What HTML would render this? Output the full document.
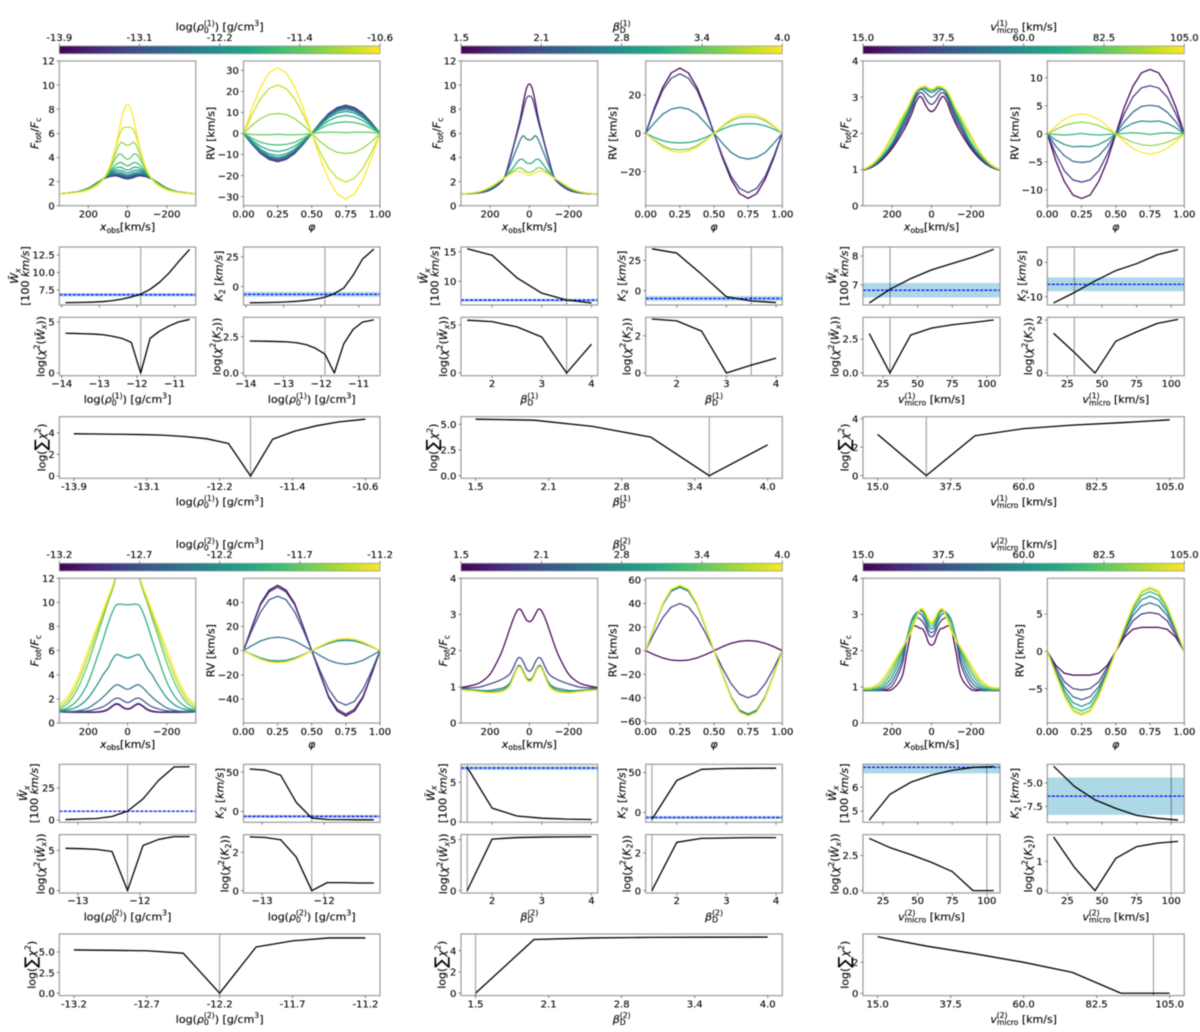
<!DOCTYPE html>
<html lang="en">
<head>
<meta charset="utf-8">
<title>Spectral line profile and radial velocity parameter study</title>
<style>
html,body{margin:0;padding:0;background:#fff;}
#figure{display:block;width:1200px;height:1032px;background:#fff;filter:blur(0.5px);}
text{font-family:"DejaVu Sans","Liberation Sans",sans-serif;fill:#000;stroke:#000;stroke-width:0.12px;white-space:pre;}
</style>
</head>
<body>
<svg id="figure" xmlns="http://www.w3.org/2000/svg" width="1200" height="1032" viewBox="0 0 1200 1032"></svg>
<script>
/* ---------- shared sample grids and observed values ---------- */
const profileVelocity = [0,15,30,45,60,80,100,125,150,200,250,300,348];
const rvPhaseQuarter = [0,0.0625,0.125,0.1875,0.25];
const observedW = 6.82;
const observedWError = 0.25;
const observedK = -6.4;
const observedKError = 2.0;

/* ---------- rho(1) ---------- */
const rhoOneValues = [-13.9,-13.65,-13.4,-13.15,-12.9,-12.65,-12.4,-12.15,-11.9,-11.65,-11.4,-11.15,-10.9,-10.6];
const rhoOneTickLabels = ['-13.9','-13.1','-12.2','-11.4','-10.6'];
const rhoOneProfiles = [
[2.23,2.26,2.34,2.43,2.47,2.45,2.38,2.2,1.95,1.45,1.17,1.05,.98],
[2.25,2.28,2.36,2.44,2.48,2.46,2.38,2.2,1.95,1.45,1.17,1.05,.98],
[2.27,2.3,2.38,2.46,2.5,2.48,2.4,2.2,1.95,1.45,1.17,1.05,.98],
[2.3,2.33,2.42,2.5,2.53,2.5,2.42,2.2,1.95,1.45,1.17,1.05,.98],
[2.36,2.4,2.48,2.55,2.58,2.54,2.44,2.21,1.94,1.44,1.17,1.05,.98],
[2.44,2.48,2.57,2.63,2.65,2.6,2.47,2.22,1.93,1.44,1.17,1.05,.98],
[2.55,2.6,2.7,2.76,2.78,2.7,2.52,2.23,1.92,1.43,1.16,1.05,.98],
[2.72,2.78,2.9,2.95,2.93,2.8,2.58,2.24,1.91,1.42,1.16,1.04,.98],
[2.95,3.02,3.17,3.2,3.12,2.92,2.62,2.25,1.9,1.41,1.15,1.04,.98],
[3.3,3.4,3.57,3.55,3.4,3.05,2.66,2.25,1.88,1.4,1.15,1.04,.98],
[3.85,3.97,4.25,4.25,3.95,3.35,2.75,2.23,1.85,1.38,1.14,1.04,.98],
[5.0,5.1,5.25,5.0,4.4,3.6,2.85,2.2,1.82,1.35,1.13,1.03,.98],
[6.5,6.5,6.3,5.7,4.9,3.75,2.9,2.18,1.78,1.33,1.13,1.03,.98],
[8.4,8.1,7.2,6.1,5.0,3.8,2.9,2.15,1.75,1.3,1.12,1.03,.98]
];
const rhoOneRV = [
[0,-5.1,-9.5,-12.3,-13.4],[0,-5.1,-9.4,-12.2,-13.3],[0,-5,-9.4,-12.1,-13.2],[0,-4.9,-9.2,-12,-13],
[0,-4.8,-9,-11.7,-12.7],[0,-4.6,-8.7,-11.2,-12.2],[0,-4.4,-8.2,-10.6,-11.5],[0,-4,-7.5,-9.7,-10.5],
[0,-3.3,-6.1,-7.9,-8.6],[0,-2.3,-4.2,-5.2,-5.5],[0,-.5,-.6,-.6,-.4],[0,3.9,7,9,9.5],
[0,9,16.5,21.3,23],[0,12,22,28.8,31.2]
];
const rhoOneW = [5.7,5.72,5.74,5.78,5.85,5.98,6.2,6.5,6.9,7.6,8.6,9.9,11.5,13.3];
const rhoOneK = [-13.4,-13.3,-13.2,-13,-12.7,-12.2,-11.5,-10.5,-8.8,-5.8,-1.2,9.5,23,31.3];
const rhoOneChiW = [3.9,3.88,3.85,3.82,3.75,3.6,3.4,3.0,0,3.4,4.1,4.6,5.0,5.25];
const rhoOneChiK = [2.2,2.19,2.18,2.16,2.14,2.08,1.95,1.7,1.3,0,2.0,3.0,3.5,3.65];
const rhoOneSum = [3.9,3.88,3.86,3.83,3.78,3.65,3.45,3.0,0,3.4,4.15,4.65,5.0,5.25];

/* ---------- beta(1) ---------- */
const betaOneValues = [1.5,2,2.5,3,3.5,4];
const betaOneTickLabels = ['1.5','2.1','2.8','3.4','4.0'];
const betaOneProfiles = [
[10.1,9.7,8.6,7.3,6.3,5.0,3.8,2.4,1.85,1.3,1.08,1.0,.97],
[9.1,8.9,8.0,7.0,6.1,4.9,3.7,2.4,1.88,1.32,1.1,1.0,.97],
[5.45,5.55,5.8,5.5,4.9,4.1,3.3,2.38,1.95,1.38,1.12,1.02,.97],
[3.5,3.55,3.8,3.85,3.65,3.2,2.8,2.35,2.0,1.45,1.15,1.03,.97],
[2.75,2.82,3.0,3.15,3.1,2.9,2.65,2.32,2.05,1.5,1.18,1.04,.97],
[2.52,2.58,2.72,2.83,2.85,2.75,2.58,2.3,2.08,1.55,1.2,1.05,.97]
];
const betaOneRV = [
[0,13,24,31.5,34],[0,12,22.5,28.7,31],[0,5.3,10,12.6,13.5],
[0,-2.2,-3.9,-4.8,-5],[0,-3.6,-6.5,-8.3,-8.7],[0,-4,-7.3,-9.4,-10]
];
const betaOneW = [15.5,14.4,10.6,8.0,6.85,6.35];
const betaOneK = [34.5,31,13.5,-5,-8.5,-9.8];
const betaOneChiW = [5.5,5.35,4.8,3.75,0,3.0];
const betaOneChiK = [2.9,2.8,2.25,0,.42,.8];
const betaOneSum = [5.5,5.4,4.8,3.75,0,3.0];

/* ---------- v_micro(1) ---------- */
const microOneValues = [15,30,45,60,75,90,105];
const microOneTickLabels = ['15.0','37.5','60.0','82.5','105.0'];
const microOneProfiles = [
[2.6,2.65,2.78,2.95,3.02,2.85,2.55,2.25,2.0,1.58,1.27,1.07,.98],
[2.8,2.85,2.97,3.1,3.12,2.98,2.68,2.35,2.1,1.63,1.3,1.08,.98],
[3.0,3.05,3.13,3.2,3.2,3.05,2.78,2.45,2.18,1.68,1.33,1.1,.99],
[3.13,3.16,3.22,3.24,3.22,3.1,2.85,2.52,2.24,1.72,1.36,1.11,.99],
[3.18,3.2,3.26,3.27,3.24,3.13,2.9,2.58,2.3,1.76,1.38,1.12,.99],
[3.21,3.24,3.29,3.28,3.25,3.15,2.94,2.63,2.38,1.88,1.44,1.14,.99],
[3.22,3.25,3.31,3.29,3.26,3.17,2.97,2.68,2.45,1.95,1.47,1.16,1.0]
];
const microOneRV = [
[0,-4.8,-8.5,-10.9,-11.5],[0,-3.6,-6.6,-8.2,-8.6],[0,-2.2,-3.9,-4.9,-5.1],[0,-1.1,-1.9,-2.3,-2.2],
[0,-.1,-.2,-.1,.1],[0,.8,1.5,1.9,2.1],[0,1.4,2.6,3.3,3.6]
];
const microOneW = [6.38,6.85,7.22,7.52,7.74,7.96,8.23];
const microOneK = [-11.8,-8.8,-5.4,-2.4,-.4,2.2,3.7];
const microOneChiW = [2.9,0,2.8,3.3,3.55,3.72,3.9];
const microOneChiK = [1.5,.78,0,1.2,1.55,1.87,2.02];
const microOneSum = [2.9,0,2.8,3.3,3.55,3.72,3.92];

/* ---------- rho(2) ---------- */
const rhoTwoValues = [-13.2,-12.95,-12.7,-12.45,-12.2,-11.95,-11.7,-11.45,-11.2];
const rhoTwoTickLabels = ['-13.2','-12.7','-12.2','-11.7','-11.2'];
const rhoTwoProfiles = [
[1.15,1.2,1.35,1.52,1.55,1.35,1.1,.95,.9,.88,.88,.9,.92],
[1.18,1.24,1.4,1.57,1.6,1.4,1.15,1.0,.93,.9,.9,.9,.93],
[1.7,1.78,1.93,2.05,2.05,1.85,1.6,1.35,1.2,1.0,.95,.93,.95],
[2.8,2.87,3.02,3.15,3.15,2.9,2.55,2.15,1.8,1.25,1.02,.95,.96],
[5.4,5.45,5.55,5.65,5.65,5.2,4.55,4.0,3.3,2.1,1.4,1.1,1.0],
[9.8,9.82,9.85,9.85,9.75,9.1,8.2,6.9,5.7,3.4,2.0,1.3,1.05],
[14,14,14,13,12.0,10.9,10,8.7,7.5,5.0,3.0,1.7,1.15],
[14,14,14,13,12.2,11.1,10.2,9,7.9,5.6,3.5,2,1.3],
[14,14,14,13,12.2,11.2,10.4,9.3,8.2,6.1,3.9,2.3,1.5]
];
const rhoTwoRV = [
[0,20,39,50,54],[0,19.5,38,48.5,52.5],[0,17,32,42,45],[0,4.2,8,10.3,11.2],[0,-3.2,-6.1,-8,-8.5],
[0,-3.6,-6.8,-8.8,-9.4],[0,-3.7,-7,-9.1,-9.7],[0,-3.8,-7.1,-9.3,-9.9],[0,-3.8,-7.2,-9.4,-10]
];
const rhoTwoW = [.3,.7,1.1,2.7,6.9,16.5,31,41.5,41.7];
const rhoTwoK = [54,52.5,46,11.5,-8.5,-10.3,-10.5,-10.7,-10.7];
const rhoTwoChiW = [5.25,5.2,5.12,4.85,0,5.6,6.35,6.7,6.7];
const rhoTwoChiK = [2.8,2.77,2.65,1.75,0,.42,.42,.4,.4];
const rhoTwoSum = [5.25,5.2,5.15,4.85,0,5.6,6.35,6.7,6.7];

/* ---------- beta(2) ---------- */
const betaTwoValues = [1.5,2,2.5,3,3.5,4];
const betaTwoTickLabels = ['1.5','2.1','2.8','3.4','4.0'];
const betaTwoProfiles = [
[2.8,2.85,3.0,3.14,3.12,2.9,2.6,2.2,1.85,1.35,1.12,1.03,.98],
[1.43,1.5,1.68,1.8,1.78,1.55,1.35,1.25,1.18,1.08,1.0,.97,.95],
[1.2,1.25,1.42,1.57,1.57,1.32,1.1,.99,.95,.9,.9,.92,.94],
[1.18,1.24,1.4,1.55,1.55,1.3,1.07,.95,.9,.87,.88,.91,.93],
[1.16,1.22,1.38,1.54,1.54,1.28,1.04,.92,.87,.85,.87,.9,.92],
[1.14,1.2,1.36,1.52,1.52,1.26,1.02,.9,.85,.83,.86,.89,.91]
];
const betaTwoRV = [
[0,-3.4,-6.2,-8,-8.5],[0,15,28,37,40],[0,20,39,50.5,53.8],
[0,20.5,39.5,51.5,54.8],[0,20.7,40,52,55.2],[0,21,40.3,52.3,55.6]
];
const betaTwoW = [6.9,1.75,.75,.47,.35,.3];
const betaTwoK = [-8.7,40,54,55,55.3,55.4];
const betaTwoChiW = [0,5.05,5.2,5.25,5.27,5.28];
const betaTwoChiK = [0,2.57,2.78,2.8,2.82,2.82];
const betaTwoSum = [0,5.05,5.2,5.25,5.27,5.28];

/* ---------- v_micro(2) ---------- */
const microTwoValues = [15,30,45,60,75,90,105];
const microTwoTickLabels = ['15.0','37.5','60.0','82.5','105.0'];
const microTwoProfiles = [
[2.15,2.22,2.45,2.6,2.62,2.68,2.6,1.95,1.28,.93,.9,.9,.9],
[2.38,2.45,2.65,2.8,2.88,2.92,2.8,2.3,1.6,1.03,.91,.9,.9],
[2.5,2.56,2.78,2.95,3.03,3.0,2.85,2.35,1.75,1.15,.93,.9,.9],
[2.6,2.67,2.88,3.06,3.1,3.03,2.85,2.35,1.9,1.28,.98,.91,.91],
[2.68,2.75,2.96,3.1,3.12,2.98,2.78,2.35,2.0,1.42,1.05,.93,.92],
[2.75,2.82,3.02,3.13,3.13,2.92,2.65,2.32,2.05,1.53,1.13,.96,.94],
[2.8,2.88,3.05,3.15,3.14,2.85,2.55,2.28,2.08,1.62,1.2,1.0,.97]
];
const microTwoRV = [
[0,-1.9,-2.95,-3.2,-3.2],[0,-2.2,-4.1,-5,-5.2],[0,-2.6,-4.8,-6.1,-6.5],[0,-2.8,-5.3,-6.9,-7.4],
[0,-3,-5.7,-7.5,-8],[0,-3.1,-6,-7.9,-8.4],[0,-3.2,-6.1,-8.1,-8.6]
];
const microTwoW = [4.62,5.7,6.2,6.5,6.7,6.82,6.85];
const microTwoK = [-3.2,-5.35,-6.8,-7.7,-8.45,-8.75,-8.95];
const microTwoChiW = [3.7,3.05,2.55,2.0,1.35,0,0];
const microTwoChiK = [1.83,.8,0,1.1,1.5,1.62,1.68];
const microTwoSum = [3.65,3.05,2.55,2.0,1.35,0,0];

/* ---------- helpers ---------- */
const NS = 'http://www.w3.org/2000/svg';
const svg = document.getElementById('figure');
const TICK = 10, LABEL = 11;
let clipCount = 0;

function mk(tag, parent, name) {
  const el = document.createElementNS(NS, tag);
  
  
  parent.appendChild(el);
  return el;
}
const VIRIDIS = ['#440154','#482475','#414487','#355f8d','#2a788e','#21918c','#22a884','#44bf70','#7ad151','#bddf26','#fde725'];
function viridis(t) {
  t = Math.max(0, Math.min(1, t));
  const p = t * (VIRIDIS.length - 1), i = Math.min(Math.floor(p), VIRIDIS.length - 2), f = p - i;
  const a = VIRIDIS[i], b = VIRIDIS[i + 1];
  const ch = k => Math.round(parseInt(a.substr(k, 2), 16) * (1 - f) + parseInt(b.substr(k, 2), 16) * f);
  return 'rgb(' + ch(1) + ',' + ch(3) + ',' + ch(5) + ')';
}
function plain(parent, name, str, x, y, anchor) {
  const t = mk('text', parent, name);
  t.setAttribute('x', x);
  t.setAttribute('y', y);
  t.setAttribute('text-anchor', anchor);
  t.setAttribute('font-size', TICK);
  t.textContent = str;
  return t;
}
function math(parent, name, segs, x, y, rotate) {
  const t = mk('text', parent, name);
  t.setAttribute('x', x);
  t.setAttribute('y', y);
  t.setAttribute('text-anchor', 'middle');
  t.setAttribute('font-size', LABEL);
  if (rotate) t.setAttribute('transform', 'rotate(-90 ' + x + ' ' + y + ')');
  let cur = 0;
  segs.forEach(s => {
    const kind = s[1];
    const ts = document.createElementNS(NS, 'tspan');
    let target = 0, size = LABEL;
    if (kind === 'b' || kind === 'bi') { target = 0.22 * LABEL; size = 0.7 * LABEL; }
    if (kind === 'p') { target = -0.42 * LABEL; size = 0.7 * LABEL; }
    if (kind === 'big') { target = 0.12 * LABEL; size = 1.5 * LABEL; }
    if (kind === 'i' || kind === 'bi') ts.setAttribute('font-style', 'italic');
    ts.setAttribute('font-size', size);
    ts.setAttribute('dy', (target - cur).toFixed(2));
    if (s[2]) ts.setAttribute('dx', (s[2] * LABEL).toFixed(2));
    cur = target;
    ts.textContent = s[0];
    t.appendChild(ts);
  });
  return t;
}
function margin(vals) {
  const lo = Math.min.apply(null, vals), hi = Math.max.apply(null, vals), d = (hi - lo) * 0.05;
  return [lo - d, hi + d];
}
function tickValue(s) { return parseFloat(s.replace('\u2212', '-')); }
function minusSign(s) { return s.replace('-', '\u2212'); }

function makePanel(name, box, xlim, ylim) {
  const g = mk('g', svg, name);
  const id = 'clip-' + (clipCount++);
  const cp = mk('clipPath', g, 'plot-clip');
  cp.setAttribute('id', id);
  const r = document.createElementNS(NS, 'rect');
  r.setAttribute('x', box.l); r.setAttribute('y', box.t);
  r.setAttribute('width', box.r - box.l); r.setAttribute('height', box.b - box.t);
  cp.appendChild(r);
  const plot = mk('g', g, 'plot-area');
  plot.setAttribute('clip-path', 'url(#' + id + ')');
  return {
    g: g, plot: plot, box: box,
    sx: v => box.l + (v - xlim[0]) / (xlim[1] - xlim[0]) * (box.r - box.l),
    sy: v => box.b - (v - ylim[0]) / (ylim[1] - ylim[0]) * (box.b - box.t)
  };
}
function tickMark(p, x1, y1, x2, y2, name) {
  const l = mk('line', p.g, name);
  l.setAttribute('x1', x1); l.setAttribute('y1', y1);
  l.setAttribute('x2', x2); l.setAttribute('y2', y2);
  l.setAttribute('stroke', '#555');
  l.setAttribute('stroke-width', '0.7');
}
function frame(p) {
  const b = p.box;
  const r = mk('rect', p.g, 'axes-frame');
  r.setAttribute('x', b.l); r.setAttribute('y', b.t);
  r.setAttribute('width', b.r - b.l); r.setAttribute('height', b.b - b.t);
  r.setAttribute('fill', 'none');
  r.setAttribute('stroke', '#9a9a9a');
  r.setAttribute('stroke-width', '1.2');
}
function yAxis(p, ticks, keepHyphen) {
  ticks.forEach(s => {
    const y = p.sy(tickValue(s));
    tickMark(p, p.box.l - 2.6, y, p.box.l, y, 'y-tick');
    plain(p.g, 'y-tick-label', keepHyphen ? s : minusSign(s), p.box.l - 4.6, y + 3.7, 'end');
  });
}
function xAxis(p, ticks, baseline) {
  ticks.forEach(s => {
    const x = p.sx(tickValue(s));
    tickMark(p, x, p.box.b, x, p.box.b + 2.6, 'x-tick');
    if (baseline) plain(p.g, 'x-tick-label', minusSign(s), x, baseline, 'middle');
  });
}
function polyline(p, name, pts, color, width) {
  const l = mk('polyline', p.plot, name);
  l.setAttribute('points', pts.map(q => q[0].toFixed(2) + ',' + q[1].toFixed(2)).join(' '));
  l.setAttribute('fill', 'none');
  l.setAttribute('stroke', color);
  l.setAttribute('stroke-width', width);
  l.setAttribute('stroke-linejoin', 'round');
}
function smoothPath(p, name, pts, color, width) {
  let d = 'M' + pts[0][0].toFixed(2) + ' ' + pts[0][1].toFixed(2);
  for (let i = 0; i < pts.length - 1; i++) {
    const a = pts[Math.max(i - 1, 0)], b = pts[i], c = pts[i + 1], e = pts[Math.min(i + 2, pts.length - 1)];
    d += 'C' + (b[0] + (c[0] - a[0]) / 6).toFixed(2) + ' ' + (b[1] + (c[1] - a[1]) / 6).toFixed(2) + ' ' +
         (c[0] - (e[0] - b[0]) / 6).toFixed(2) + ' ' + (c[1] - (e[1] - b[1]) / 6).toFixed(2) + ' ' +
         c[0].toFixed(2) + ' ' + c[1].toFixed(2);
  }
  const l = mk('path', p.plot, name);
  l.setAttribute('d', d);
  l.setAttribute('fill', 'none');
  l.setAttribute('stroke', color);
  l.setAttribute('stroke-width', width);
}
function hBand(p, obs, err) {
  const b = p.box;
  const r = mk('rect', p.plot, 'observed-error-band');
  r.setAttribute('x', b.l); r.setAttribute('width', b.r - b.l);
  r.setAttribute('y', p.sy(obs + err)); r.setAttribute('height', p.sy(obs - err) - p.sy(obs + err));
  r.setAttribute('fill', '#add8e6');
  const l = mk('line', p.plot, 'observed-value-line');
  l.setAttribute('x1', b.l); l.setAttribute('x2', b.r);
  l.setAttribute('y1', p.sy(obs)); l.setAttribute('y2', p.sy(obs));
  l.setAttribute('stroke', '#0000ff');
  l.setAttribute('stroke-width', '1.25');
  l.setAttribute('stroke-dasharray', '3 1.5');
}
function bestLine(p, v) {
  const l = mk('line', p.plot, 'best-fit-marker');
  l.setAttribute('x1', p.sx(v)); l.setAttribute('x2', p.sx(v));
  l.setAttribute('y1', p.box.t); l.setAttribute('y2', p.box.b);
  l.setAttribute('stroke', '#111');
  l.setAttribute('stroke-width', '0.9');
  l.setAttribute('stroke-dasharray', '1 1');
}

const LABEL_F = [['F','i'],['tot','b'],['/','r'],['F','i'],['c','b']];
const LABEL_RV = [['RV [km/s]','r']];
const LABEL_XOBS = [['x','i'],['obs','b'],['[km/s]','r']];
const LABEL_PHI = [['\u03c6','i']];
const LABEL_WA = [['W\u0303','i'],['x','bi']];
const LABEL_WB = [['[100 ','r'],['km/s','i'],[']','r']];
const LABEL_K = [['K','i'],['2','b'],[' [','r'],['km/s','i'],[']','r']];
const LABEL_CHIW = [['log(','r'],['\u03c7','i'],['2','p'],['(','r'],['W\u0303','i'],['x','bi'],['))','r']];
const LABEL_CHIK = [['log(','r'],['\u03c7','i'],['2','p'],['(','r'],['K','i'],['2','b'],['))','r']];
const LABEL_SUM = [['log(','r'],['\u2211','big'],['\u03c7','i'],['2','p'],[')','r']];
function rhoLabel(n) { return [['log(','r'],['\u03c1','i'],['0','b'],['(' + n + ')','p',-0.445],[') [g/cm','r'],['3','p'],[']','r']]; }
function betaLabel(n) { return [['\u03b2','i'],['D','b'],['(' + n + ')','p',-0.539]]; }
function microLabel(n) { return [['v','i'],['micro','b'],['(' + n + ')','p',-1.978],[' [km/s]','r',0.987]]; }

const ROWS = { bar:[46,53.7], prof:[61,205.7], w:[247,305], chi:[317.3,375.7], sum:[416.7,478.3] };
const BASE = { cbTitle:30.7, cbTick:40.8, profTick:217.6, profLabel:230.5, chiTick:386.8, chiLabel:403, sumTick:490, sumLabel:505.5 };
const CURVE_WIDTH = '1.25';
const METRIC_WIDTH = '1.3';

function drawColumn(c) {
  const o = c.offset, X = c.x;
  const xl = margin(c.values);
  const bx = (l, r, row) => ({ l: l, r: r, t: ROWS[row][0] + o, b: ROWS[row][1] + o });
  const n = c.values.length;
  const color = v => viridis((v - c.values[0]) / (c.values[n - 1] - c.values[0]));
  const yc = row => (ROWS[row][0] + ROWS[row][1]) / 2 + o;

  /* colour bar */
  const cb = mk('g', svg, 'colorbar');
  const gid = 'cb-grad-' + (clipCount++);
  const grad = mk('linearGradient', cb, 'colorbar-gradient');
  grad.setAttribute('id', gid);
  VIRIDIS.forEach((col, i) => {
    const st = document.createElementNS(NS, 'stop');
    st.setAttribute('offset', (i / (VIRIDIS.length - 1)));
    st.setAttribute('stop-color', col);
    grad.appendChild(st);
  });
  const bar = mk('rect', cb, 'colorbar-gradient-bar');
  bar.setAttribute('x', X[0]); bar.setAttribute('width', X[3] - X[0]);
  bar.setAttribute('y', ROWS.bar[0] + o); bar.setAttribute('height', ROWS.bar[1] - ROWS.bar[0]);
  bar.setAttribute('fill', 'url(#' + gid + ')');
  bar.setAttribute('stroke', '#999');
  bar.setAttribute('stroke-width', '0.8');
  c.tickLabels.forEach((s, i) => {
    const x = X[0] + i * (X[3] - X[0]) / (c.tickLabels.length - 1);
    const l = mk('line', cb, 'colorbar-tick');
    l.setAttribute('x1', x); l.setAttribute('x2', x);
    l.setAttribute('y1', ROWS.bar[0] + o - 2.6); l.setAttribute('y2', ROWS.bar[0] + o);
    l.setAttribute('stroke', '#555'); l.setAttribute('stroke-width', '0.7');
    plain(cb, 'colorbar-tick-label', s, x, BASE.cbTick + o, 'middle');
  });
  math(cb, 'colorbar-title', c.label, (X[0] + X[3]) / 2, BASE.cbTitle + o, false);

  /* line profiles */
  const pp = makePanel('line-profile-panel', bx(X[0], X[1], 'prof'), [348, -348], c.profLim);
  c.profiles.forEach((row, i) => {
    const pts = [];
    for (let k = profileVelocity.length - 1; k > 0; k--) pts.push([pp.sx(profileVelocity[k]), pp.sy(row[k])]);
    for (let k = 0; k < profileVelocity.length; k++) pts.push([pp.sx(-profileVelocity[k]), pp.sy(row[k])]);
    smoothPath(pp, 'profile-curve', pts, color(c.values[i]), CURVE_WIDTH);
  });
  frame(pp);
  yAxis(pp, c.profTicks);
  xAxis(pp, ['200', '0', '-200'], BASE.profTick + o);
  math(pp.g, 'y-axis-title', LABEL_F, c.lx.prof + 3.6, yc('prof'), true);
  math(pp.g, 'x-axis-title', LABEL_XOBS, (X[0] + X[1]) / 2, BASE.profLabel + o, false);

  /* radial velocity curves */
  const rp = makePanel('radial-velocity-panel', bx(X[2], X[3], 'prof'), [0, 1], c.rvLim);
  c.rv.forEach((q, i) => {
    const pts = [];
    q.forEach((v, k) => pts.push([rp.sx(rvPhaseQuarter[k]), rp.sy(v)]));
    for (let k = 3; k >= 0; k--) pts.push([rp.sx(0.5 - rvPhaseQuarter[k]), rp.sy(q[k])]);
    for (let k = 1; k < 5; k++) pts.push([rp.sx(0.5 + rvPhaseQuarter[k]), rp.sy(-q[k])]);
    for (let k = 3; k >= 0; k--) pts.push([rp.sx(1 - rvPhaseQuarter[k]), rp.sy(-q[k])]);
    polyline(rp, 'rv-curve', pts, color(c.values[i]), CURVE_WIDTH);
  });
  frame(rp);
  yAxis(rp, c.rvTicks);
  xAxis(rp, ['0.00', '0.25', '0.50', '0.75', '1.00'], BASE.profTick + o);
  math(rp.g, 'y-axis-title', LABEL_RV, c.lx.rv + 3.6, yc('prof'), true);
  math(rp.g, 'x-axis-title', LABEL_PHI, (X[2] + X[3]) / 2, BASE.profLabel + o, false);

  const series = (p, arr) => polyline(p, 'metric-line', arr.map((v, i) => [p.sx(c.values[i]), p.sy(v)]), '#000', METRIC_WIDTH);

  /* W panel */
  const wp = makePanel('equivalent-width-panel', bx(X[0], X[1], 'w'), xl, c.wLim);
  hBand(wp, observedW, observedWError);
  series(wp, c.w);
  bestLine(wp, c.best);
  frame(wp);
  yAxis(wp, c.wTicks);
  xAxis(wp, c.xTicks);
  math(wp.g, 'y-axis-title-line-1', LABEL_WA, c.lx.w1 + 3.6, yc('w'), true);
  math(wp.g, 'y-axis-title-line-2', LABEL_WB, c.lx.w2 + 3.6, yc('w'), true);

  /* K panel */
  const kp = makePanel('semi-amplitude-panel', bx(X[2], X[3], 'w'), xl, c.kLim);
  hBand(kp, observedK, observedKError);
  series(kp, c.k);
  bestLine(kp, c.best);
  frame(kp);
  yAxis(kp, c.kTicks, c.kHyphen);
  xAxis(kp, c.xTicks);
  math(kp.g, 'y-axis-title', LABEL_K, c.lx.k + 3.6, yc('w'), true);

  /* chi W panel */
  const cw = makePanel('chi-square-width-panel', bx(X[0], X[1], 'chi'), xl, c.chiWLim);
  series(cw, c.chiW);
  bestLine(cw, c.best);
  frame(cw);
  yAxis(cw, c.chiWTicks);
  xAxis(cw, c.xTicks, BASE.chiTick + o);
  math(cw.g, 'y-axis-title', LABEL_CHIW, c.lx.chiW + 3.6, yc('chi'), true);
  math(cw.g, 'x-axis-title', c.label, (X[0] + X[1]) / 2, BASE.chiLabel + o, false);

  /* chi K panel */
  const ck = makePanel('chi-square-amplitude-panel', bx(X[2], X[3], 'chi'), xl, c.chiKLim);
  series(ck, c.chiK);
  bestLine(ck, c.best);
  frame(ck);
  yAxis(ck, c.chiKTicks);
  xAxis(ck, c.xTicks, BASE.chiTick + o);
  math(ck.g, 'y-axis-title', LABEL_CHIK, c.lx.chiK + 3.6, yc('chi'), true);
  math(ck.g, 'x-axis-title', c.label, (X[2] + X[3]) / 2, BASE.chiLabel + o, false);

  /* total chi panel */
  const sp = makePanel('total-chi-square-panel', bx(X[0], X[3], 'sum'), xl, c.sumLim);
  series(sp, c.sum);
  bestLine(sp, c.best);
  frame(sp);
  yAxis(sp, c.sumTicks);
  c.tickLabels.forEach((s, i) => {
    const x = sp.sx(c.values[0] + i * (c.values[n - 1] - c.values[0]) / (c.tickLabels.length - 1));
    tickMark(sp, x, sp.box.b, x, sp.box.b + 2.6, 'x-tick');
    plain(sp.g, 'x-tick-label', s, x, BASE.sumTick + o, 'middle');
  });
  math(sp.g, 'y-axis-title', LABEL_SUM, c.lx.sum + 3.6, yc('sum'), true);
  math(sp.g, 'x-axis-title', c.label, (X[0] + X[3]) / 2, BASE.sumLabel + o, false);
}

const X1 = [59.3,195.8,243.5,380], X2 = [461,597.7,645.7,782.3], X3 = [863,1000,1047.3,1184.3];
const LOW = 517.3;

drawColumn({ offset:0, x:X1, label:rhoLabel(1), values:rhoOneValues, tickLabels:rhoOneTickLabels, best:-11.9,
  profiles:rhoOneProfiles, profLim:[0,12], profTicks:['0','2','4','6','8','10','12'],
  rv:rhoOneRV, rvLim:[-34.3,34.4], rvTicks:['-30','-20','-10','0','10','20','30'],
  w:rhoOneW, wLim:[5.36,13.64], wTicks:['7.5','10.0','12.5'], k:rhoOneK, kLim:[-15.3,33.1], kTicks:['0','25'],
  chiW:rhoOneChiW, chiWLim:[-.26,5.46], chiWTicks:['0','5'], chiK:rhoOneChiK, chiKLim:[-.186,3.83], chiKTicks:['0.0','2.5'],
  sum:rhoOneSum, sumLim:[-.21,5.48], sumTicks:['0','2','4'], xTicks:['-14','-13','-12','-11'],
  lx:{prof:35,rv:211,w1:14.5,w2:25.5,k:219,chiW:40.7,chiK:216.7,sum:41.7} });

drawColumn({ offset:0, x:X2, label:betaLabel(1), values:betaOneValues, tickLabels:betaOneTickLabels, best:3.5,
  profiles:betaOneProfiles, profLim:[0,12], profTicks:['0','2','4','6','8','10','12'],
  rv:betaOneRV, rvLim:[-37.8,37.7], rvTicks:['-20','0','20'],
  w:betaOneW, wLim:[6.0,15.8], wTicks:['10','15'], k:betaOneK, kLim:[-11.8,36], kTicks:['0','25'],
  chiW:betaOneChiW, chiWLim:[-.28,5.8], chiWTicks:['0','5'], chiK:betaOneChiK, chiKLim:[-.145,2.99], chiKTicks:['0','2'],
  sum:betaOneSum, sumLim:[-.255,5.74], sumTicks:['0.0','2.5','5.0'], xTicks:['2','3','4'],
  lx:{prof:437,rv:612.7,w1:424,w2:435,k:621.7,chiW:443.3,chiK:626.7,sum:433.3} });

drawColumn({ offset:0, x:X3, label:microLabel(1), values:microOneValues, tickLabels:microOneTickLabels, best:30,
  profiles:microOneProfiles, profLim:[0,4], profTicks:['0','1','2','3','4'],
  rv:microOneRV, rvLim:[-12.8,13], rvTicks:['-10','-5','0','5','10'],
  w:microOneW, wLim:[6.31,8.31], wTicks:['7','8'], k:microOneK, kLim:[-12.4,4.45], kTicks:['-10','0'], kHyphen:true,
  chiW:microOneChiW, chiWLim:[-.2,4.1], chiWTicks:['0.0','2.5'], chiK:microOneChiK, chiKLim:[-.1,2.1], chiKTicks:['0','2'],
  sum:microOneSum, sumLim:[-.19,4.14], sumTicks:['0','2','4'], xTicks:['25','50','75','100'],
  lx:{prof:845,rv:1015,w1:832.3,w2:844.3,k:1021.7,chiW:835,chiK:1028.3,sum:845} });

drawColumn({ offset:LOW, x:X1, label:rhoLabel(2), values:rhoTwoValues, tickLabels:rhoTwoTickLabels, best:-12.2,
  profiles:rhoTwoProfiles, profLim:[0,12], profTicks:['0','2','4','6','8','10','12'],
  rv:rhoTwoRV, rvLim:[-59.8,59.8], rvTicks:['-40','-20','0','20','40'],
  w:rhoTwoW, wLim:[-1.86,43.6], wTicks:['0','25'], k:rhoTwoK, kLim:[-13.9,60], kTicks:['0','50'],
  chiW:rhoTwoChiW, chiWLim:[-.3,6.95], chiWTicks:['0','5'], chiK:rhoTwoChiK, chiKLim:[-.12,2.92], chiKTicks:['0','2'],
  sum:rhoTwoSum, sumLim:[-.29,7.18], sumTicks:['0.0','2.5','5.0'], xTicks:['-13','-12'],
  lx:{prof:35,rv:211,w1:23.3,w2:34.3,k:220,chiW:40.7,chiK:225,sum:31.7} });

drawColumn({ offset:LOW, x:X2, label:betaLabel(2), values:betaTwoValues, tickLabels:betaTwoTickLabels, best:1.5,
  profiles:betaTwoProfiles, profLim:[0,4], profTicks:['0','1','2','3','4'],
  rv:betaTwoRV, rvLim:[-61.4,61.4], rvTicks:['-60','-40','-20','0','20','40','60'],
  w:betaTwoW, wLim:[-.05,7.29], wTicks:['0','5'], k:betaTwoK, kLim:[-12.4,60.3], kTicks:['0','50'],
  chiW:betaTwoChiW, chiWLim:[-.23,5.49], chiWTicks:['0','5'], chiK:betaTwoChiK, chiKLim:[-.13,2.98], chiKTicks:['0','2'],
  sum:betaTwoSum, sumLim:[-.23,5.57], sumTicks:['0','2','4'], xTicks:['2','3','4'],
  lx:{prof:443.3,rv:612.7,w1:430.7,w2:442.7,k:621.7,chiW:443.3,chiK:626.7,sum:441.7} });

drawColumn({ offset:LOW, x:X3, label:microLabel(2), values:microTwoValues, tickLabels:microTwoTickLabels, best:100,
  profiles:microTwoProfiles, profLim:[0,4], profTicks:['0','1','2','3','4'],
  rv:microTwoRV, rvLim:[-9.62,9.79], rvTicks:['-5','0','5'],
  w:microTwoW, wLim:[4.53,6.95], wTicks:['5','6'], k:microTwoK, kLim:[-9.19,-3], kTicks:['-7.5','-5.0'], kHyphen:true,
  chiW:microTwoChiW, chiWLim:[-.17,3.97], chiWTicks:['0.0','2.5'], chiK:microTwoChiK, chiKLim:[-.08,1.91], chiKTicks:['0','1'],
  sum:microTwoSum, sumLim:[-.15,3.83], sumTicks:['0','2'], xTicks:['25','50','75','100'],
  lx:{prof:845,rv:1020,w1:832.3,w2:844.3,k:1015,chiW:835,chiK:1028.3,sum:845} });
</script>
</body>
</html>
